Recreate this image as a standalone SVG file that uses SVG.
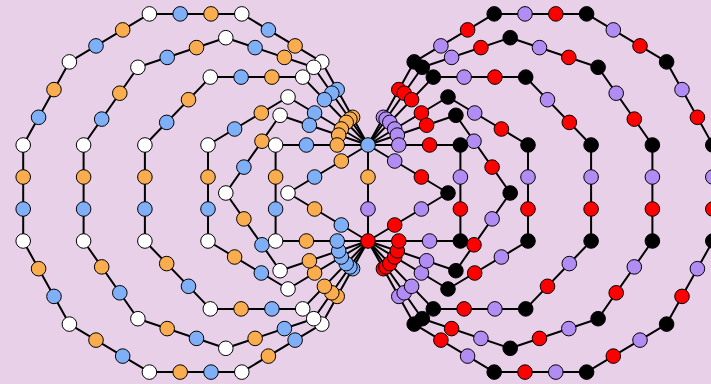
<svg xmlns="http://www.w3.org/2000/svg" width="711" height="384" viewBox="0 0 711 384">
<style>
.e polyline,.e line{fill:none;stroke:#000;stroke-width:2;stroke-linejoin:round}
circle{r:7.3px;stroke:#000;stroke-width:1}
.w{fill:#fff}.o{fill:#f9ad4e}.b{fill:#7fb0f7}.k{fill:#000}.r{fill:#f00}.p{fill:#b18cf2}
</style>
<rect width="711" height="384" fill="#e8d0e8"/>
<g id="connectors" class="e">
<line x1="368" y1="145" x2="368" y2="241"/>
<polyline points="368,145 288,193 368,241"/>
<polyline points="368,145 275.6,145 275.6,241 368,241"/>
<polyline points="368,145 280.1,115.3 225.8,193 280.1,270.7 368,241"/>
<polyline points="368,145 288,97 208,145 208,241 288,289 368,241"/>
<polyline points="368,145 302.7,77.1 210.3,77.1 144.9,145 144.9,241 210.3,308.9 302.7,308.9 368,241"/>
<polyline points="368,145 313.7,67.3 225.8,37.7 137.9,67.3 83.6,145 83.6,241 137.9,318.7 225.8,348.3 313.7,318.7 368,241"/>
<polyline points="368,145 321.8,61.9 241.8,13.9 149.4,13.9 69.4,61.9 23.2,145 23.2,241 69.4,324.1 149.4,372.1 241.8,372.1 321.8,324.1 368,241"/>
<polyline points="368,145 448,193 368,241"/>
<polyline points="368,145 460.4,145 460.4,241 368,241"/>
<polyline points="368,145 455.9,115.3 510.2,193 455.9,270.7 368,241"/>
<polyline points="368,145 448,97 528,145 528,241 448,289 368,241"/>
<polyline points="368,145 433.3,77.1 525.7,77.1 591.1,145 591.1,241 525.7,308.9 433.3,308.9 368,241"/>
<polyline points="368,145 422.3,67.3 510.2,37.7 598.1,67.3 652.4,145 652.4,241 598.1,318.7 510.2,348.3 422.3,318.7 368,241"/>
<polyline points="368,145 414.2,61.9 494.2,13.9 586.6,13.9 666.6,61.9 712.8,145 712.8,241 666.6,324.1 586.6,372.1 494.2,372.1 414.2,324.1 368,241"/>
</g>
<g id="left-nodes">
<g id="l12-1"><circle class="o" cx="352.6" cy="117.3"/></g>
<g id="l12-2"><circle class="b" cx="337.2" cy="89.6"/></g>
<g id="l12-3"><circle class="w" cx="321.8" cy="61.9"/></g>
<g id="l12-4"><circle class="o" cx="295.1" cy="45.9"/></g>
<g id="l12-5"><circle class="b" cx="268.4" cy="29.9"/></g>
<g id="l12-6"><circle class="w" cx="241.8" cy="13.9"/></g>
<g id="l12-7"><circle class="o" cx="211" cy="13.9"/></g>
<g id="l12-8"><circle class="b" cx="180.2" cy="13.9"/></g>
<g id="l12-9"><circle class="w" cx="149.4" cy="13.9"/></g>
<g id="l12-10"><circle class="o" cx="122.7" cy="29.9"/></g>
<g id="l12-11"><circle class="b" cx="96" cy="45.9"/></g>
<g id="l12-12"><circle class="w" cx="69.4" cy="61.9"/></g>
<g id="l12-13"><circle class="o" cx="54" cy="89.6"/></g>
<g id="l12-14"><circle class="b" cx="38.6" cy="117.3"/></g>
<g id="l12-15"><circle class="w" cx="23.2" cy="145"/></g>
<g id="l12-16"><circle class="o" cx="23.2" cy="177"/></g>
<g id="l12-17"><circle class="b" cx="23.2" cy="209"/></g>
<g id="l12-18"><circle class="w" cx="23.2" cy="241"/></g>
<g id="l12-19"><circle class="o" cx="38.6" cy="268.7"/></g>
<g id="l12-20"><circle class="b" cx="54" cy="296.4"/></g>
<g id="l12-21"><circle class="w" cx="69.4" cy="324.1"/></g>
<g id="l12-22"><circle class="o" cx="96" cy="340.1"/></g>
<g id="l12-23"><circle class="b" cx="122.7" cy="356.1"/></g>
<g id="l12-24"><circle class="w" cx="149.4" cy="372.1"/></g>
<g id="l12-25"><circle class="o" cx="180.2" cy="372.1"/></g>
<g id="l12-26"><circle class="b" cx="211" cy="372.1"/></g>
<g id="l12-27"><circle class="w" cx="241.8" cy="372.1"/></g>
<g id="l12-28"><circle class="o" cx="268.4" cy="356.1"/></g>
<g id="l12-29"><circle class="b" cx="295.1" cy="340.1"/></g>
<g id="l12-30"><circle class="w" cx="321.8" cy="324.1"/></g>
<g id="l12-31"><circle class="o" cx="337.2" cy="296.4"/></g>
<g id="l12-32"><circle class="b" cx="352.6" cy="268.7"/></g>
<g id="l10-1"><circle class="o" cx="349.9" cy="119.1"/></g>
<g id="l10-2"><circle class="b" cx="331.8" cy="93.2"/></g>
<g id="l10-3"><circle class="w" cx="313.7" cy="67.3"/></g>
<g id="l10-4"><circle class="o" cx="284.4" cy="57.4"/></g>
<g id="l10-5"><circle class="b" cx="255.1" cy="47.6"/></g>
<g id="l10-6"><circle class="w" cx="225.8" cy="37.7"/></g>
<g id="l10-7"><circle class="o" cx="196.5" cy="47.6"/></g>
<g id="l10-8"><circle class="b" cx="167.2" cy="57.4"/></g>
<g id="l10-9"><circle class="w" cx="137.9" cy="67.3"/></g>
<g id="l10-10"><circle class="o" cx="119.8" cy="93.2"/></g>
<g id="l10-11"><circle class="b" cx="101.7" cy="119.1"/></g>
<g id="l10-12"><circle class="w" cx="83.6" cy="145"/></g>
<g id="l10-13"><circle class="o" cx="83.6" cy="177"/></g>
<g id="l10-14"><circle class="b" cx="83.6" cy="209"/></g>
<g id="l10-15"><circle class="w" cx="83.6" cy="241"/></g>
<g id="l10-16"><circle class="o" cx="101.7" cy="266.9"/></g>
<g id="l10-17"><circle class="b" cx="119.8" cy="292.8"/></g>
<g id="l10-18"><circle class="w" cx="137.9" cy="318.7"/></g>
<g id="l10-19"><circle class="o" cx="167.2" cy="328.6"/></g>
<g id="l10-20"><circle class="b" cx="196.5" cy="338.4"/></g>
<g id="l10-21"><circle class="w" cx="225.8" cy="348.3"/></g>
<g id="l10-22"><circle class="o" cx="255.1" cy="338.4"/></g>
<g id="l10-23"><circle class="b" cx="284.4" cy="328.6"/></g>
<g id="l10-24"><circle class="w" cx="313.7" cy="318.7"/></g>
<g id="l10-25"><circle class="o" cx="331.8" cy="292.8"/></g>
<g id="l10-26"><circle class="b" cx="349.9" cy="266.9"/></g>
<g id="l8-1"><circle class="o" cx="346.2" cy="122.4"/></g>
<g id="l8-2"><circle class="b" cx="324.4" cy="99.7"/></g>
<g id="l8-3"><circle class="w" cx="302.7" cy="77.1"/></g>
<g id="l8-4"><circle class="o" cx="271.9" cy="77.1"/></g>
<g id="l8-5"><circle class="b" cx="241.1" cy="77.1"/></g>
<g id="l8-6"><circle class="w" cx="210.3" cy="77.1"/></g>
<g id="l8-7"><circle class="o" cx="188.5" cy="99.7"/></g>
<g id="l8-8"><circle class="b" cx="166.7" cy="122.4"/></g>
<g id="l8-9"><circle class="w" cx="144.9" cy="145"/></g>
<g id="l8-10"><circle class="o" cx="144.9" cy="177"/></g>
<g id="l8-11"><circle class="b" cx="144.9" cy="209"/></g>
<g id="l8-12"><circle class="w" cx="144.9" cy="241"/></g>
<g id="l8-13"><circle class="o" cx="166.7" cy="263.6"/></g>
<g id="l8-14"><circle class="b" cx="188.5" cy="286.3"/></g>
<g id="l8-15"><circle class="w" cx="210.3" cy="308.9"/></g>
<g id="l8-16"><circle class="o" cx="241.1" cy="308.9"/></g>
<g id="l8-17"><circle class="b" cx="271.9" cy="308.9"/></g>
<g id="l8-18"><circle class="w" cx="302.7" cy="308.9"/></g>
<g id="l8-19"><circle class="o" cx="324.4" cy="286.3"/></g>
<g id="l8-20"><circle class="b" cx="346.2" cy="263.6"/></g>
<g id="l6-1"><circle class="o" cx="341.3" cy="129"/></g>
<g id="l6-2"><circle class="b" cx="314.6" cy="113"/></g>
<g id="l6-3"><circle class="w" cx="288" cy="97"/></g>
<g id="l6-4"><circle class="o" cx="261.3" cy="113"/></g>
<g id="l6-5"><circle class="b" cx="234.6" cy="129"/></g>
<g id="l6-6"><circle class="w" cx="208" cy="145"/></g>
<g id="l6-7"><circle class="o" cx="208" cy="177"/></g>
<g id="l6-8"><circle class="b" cx="208" cy="209"/></g>
<g id="l6-9"><circle class="w" cx="208" cy="241"/></g>
<g id="l6-10"><circle class="o" cx="234.6" cy="257"/></g>
<g id="l6-11"><circle class="b" cx="261.3" cy="273"/></g>
<g id="l6-12"><circle class="w" cx="288" cy="289"/></g>
<g id="l6-13"><circle class="o" cx="314.6" cy="273"/></g>
<g id="l6-14"><circle class="b" cx="341.3" cy="257"/></g>
<g id="l5-1"><circle class="o" cx="338.7" cy="135.1"/></g>
<g id="l5-2"><circle class="b" cx="309.4" cy="125.2"/></g>
<g id="l5-3"><circle class="w" cx="280.1" cy="115.3"/></g>
<g id="l5-4"><circle class="o" cx="262" cy="141.2"/></g>
<g id="l5-5"><circle class="b" cx="243.9" cy="167.1"/></g>
<g id="l5-6"><circle class="w" cx="225.8" cy="193"/></g>
<g id="l5-7"><circle class="o" cx="243.9" cy="218.9"/></g>
<g id="l5-8"><circle class="b" cx="262" cy="244.8"/></g>
<g id="l5-9"><circle class="w" cx="280.1" cy="270.7"/></g>
<g id="l5-10"><circle class="o" cx="309.4" cy="260.8"/></g>
<g id="l5-11"><circle class="b" cx="338.7" cy="250.9"/></g>
<g id="l4-1"><circle class="o" cx="337.2" cy="145"/></g>
<g id="l4-2"><circle class="b" cx="306.4" cy="145"/></g>
<g id="l4-3"><circle class="w" cx="275.6" cy="145"/></g>
<g id="l4-4"><circle class="o" cx="275.6" cy="177"/></g>
<g id="l4-5"><circle class="b" cx="275.6" cy="209"/></g>
<g id="l4-6"><circle class="w" cx="275.6" cy="241"/></g>
<g id="l4-7"><circle class="o" cx="306.4" cy="241"/></g>
<g id="l4-8"><circle class="b" cx="337.2" cy="241"/></g>
<g id="l3-1"><circle class="o" cx="341.3" cy="161"/></g>
<g id="l3-2"><circle class="b" cx="314.6" cy="177"/></g>
<g id="l3-3"><circle class="w" cx="288" cy="193"/></g>
<g id="l3-4"><circle class="o" cx="314.6" cy="209"/></g>
<g id="l3-5"><circle class="b" cx="341.3" cy="225"/></g>
</g>
<g id="right-nodes">
<g id="r12-1"><circle class="p" cx="383.4" cy="117.3"/></g>
<g id="r12-2"><circle class="r" cx="398.8" cy="89.6"/></g>
<g id="r12-3"><circle class="k" cx="414.2" cy="61.9"/></g>
<g id="r12-4"><circle class="p" cx="440.9" cy="45.9"/></g>
<g id="r12-5"><circle class="r" cx="467.6" cy="29.9"/></g>
<g id="r12-6"><circle class="k" cx="494.2" cy="13.9"/></g>
<g id="r12-7"><circle class="p" cx="525" cy="13.9"/></g>
<g id="r12-8"><circle class="r" cx="555.8" cy="13.9"/></g>
<g id="r12-9"><circle class="k" cx="586.6" cy="13.9"/></g>
<g id="r12-10"><circle class="p" cx="613.3" cy="29.9"/></g>
<g id="r12-11"><circle class="r" cx="640" cy="45.9"/></g>
<g id="r12-12"><circle class="k" cx="666.6" cy="61.9"/></g>
<g id="r12-13"><circle class="p" cx="682" cy="89.6"/></g>
<g id="r12-14"><circle class="r" cx="697.4" cy="117.3"/></g>
<g id="r12-15"><circle class="k" cx="712.8" cy="145"/></g>
<g id="r12-16"><circle class="p" cx="712.8" cy="177"/></g>
<g id="r12-17"><circle class="r" cx="712.8" cy="209"/></g>
<g id="r12-18"><circle class="k" cx="712.8" cy="241"/></g>
<g id="r12-19"><circle class="p" cx="697.4" cy="268.7"/></g>
<g id="r12-20"><circle class="r" cx="682" cy="296.4"/></g>
<g id="r12-21"><circle class="k" cx="666.6" cy="324.1"/></g>
<g id="r12-22"><circle class="p" cx="640" cy="340.1"/></g>
<g id="r12-23"><circle class="r" cx="613.3" cy="356.1"/></g>
<g id="r12-24"><circle class="k" cx="586.6" cy="372.1"/></g>
<g id="r12-25"><circle class="p" cx="555.8" cy="372.1"/></g>
<g id="r12-26"><circle class="r" cx="525" cy="372.1"/></g>
<g id="r12-27"><circle class="k" cx="494.2" cy="372.1"/></g>
<g id="r12-28"><circle class="p" cx="467.6" cy="356.1"/></g>
<g id="r12-29"><circle class="r" cx="440.9" cy="340.1"/></g>
<g id="r12-30"><circle class="k" cx="414.2" cy="324.1"/></g>
<g id="r12-31"><circle class="p" cx="398.8" cy="296.4"/></g>
<g id="r12-32"><circle class="r" cx="383.4" cy="268.7"/></g>
<g id="r10-1"><circle class="p" cx="386.1" cy="119.1"/></g>
<g id="r10-2"><circle class="r" cx="404.2" cy="93.2"/></g>
<g id="r10-3"><circle class="k" cx="422.3" cy="67.3"/></g>
<g id="r10-4"><circle class="p" cx="451.6" cy="57.4"/></g>
<g id="r10-5"><circle class="r" cx="480.9" cy="47.6"/></g>
<g id="r10-6"><circle class="k" cx="510.2" cy="37.7"/></g>
<g id="r10-7"><circle class="p" cx="539.5" cy="47.6"/></g>
<g id="r10-8"><circle class="r" cx="568.8" cy="57.4"/></g>
<g id="r10-9"><circle class="k" cx="598.1" cy="67.3"/></g>
<g id="r10-10"><circle class="p" cx="616.2" cy="93.2"/></g>
<g id="r10-11"><circle class="r" cx="634.3" cy="119.1"/></g>
<g id="r10-12"><circle class="k" cx="652.4" cy="145"/></g>
<g id="r10-13"><circle class="p" cx="652.4" cy="177"/></g>
<g id="r10-14"><circle class="r" cx="652.4" cy="209"/></g>
<g id="r10-15"><circle class="k" cx="652.4" cy="241"/></g>
<g id="r10-16"><circle class="p" cx="634.3" cy="266.9"/></g>
<g id="r10-17"><circle class="r" cx="616.2" cy="292.8"/></g>
<g id="r10-18"><circle class="k" cx="598.1" cy="318.7"/></g>
<g id="r10-19"><circle class="p" cx="568.8" cy="328.6"/></g>
<g id="r10-20"><circle class="r" cx="539.5" cy="338.4"/></g>
<g id="r10-21"><circle class="k" cx="510.2" cy="348.3"/></g>
<g id="r10-22"><circle class="p" cx="480.9" cy="338.4"/></g>
<g id="r10-23"><circle class="r" cx="451.6" cy="328.6"/></g>
<g id="r10-24"><circle class="k" cx="422.3" cy="318.7"/></g>
<g id="r10-25"><circle class="p" cx="404.2" cy="292.8"/></g>
<g id="r10-26"><circle class="r" cx="386.1" cy="266.9"/></g>
<g id="r8-1"><circle class="p" cx="389.8" cy="122.4"/></g>
<g id="r8-2"><circle class="r" cx="411.6" cy="99.7"/></g>
<g id="r8-3"><circle class="k" cx="433.3" cy="77.1"/></g>
<g id="r8-4"><circle class="p" cx="464.1" cy="77.1"/></g>
<g id="r8-5"><circle class="r" cx="494.9" cy="77.1"/></g>
<g id="r8-6"><circle class="k" cx="525.7" cy="77.1"/></g>
<g id="r8-7"><circle class="p" cx="547.5" cy="99.7"/></g>
<g id="r8-8"><circle class="r" cx="569.3" cy="122.4"/></g>
<g id="r8-9"><circle class="k" cx="591.1" cy="145"/></g>
<g id="r8-10"><circle class="p" cx="591.1" cy="177"/></g>
<g id="r8-11"><circle class="r" cx="591.1" cy="209"/></g>
<g id="r8-12"><circle class="k" cx="591.1" cy="241"/></g>
<g id="r8-13"><circle class="p" cx="569.3" cy="263.6"/></g>
<g id="r8-14"><circle class="r" cx="547.5" cy="286.3"/></g>
<g id="r8-15"><circle class="k" cx="525.7" cy="308.9"/></g>
<g id="r8-16"><circle class="p" cx="494.9" cy="308.9"/></g>
<g id="r8-17"><circle class="r" cx="464.1" cy="308.9"/></g>
<g id="r8-18"><circle class="k" cx="433.3" cy="308.9"/></g>
<g id="r8-19"><circle class="p" cx="411.6" cy="286.3"/></g>
<g id="r8-20"><circle class="r" cx="389.8" cy="263.6"/></g>
<g id="r6-1"><circle class="p" cx="394.7" cy="129"/></g>
<g id="r6-2"><circle class="r" cx="421.4" cy="113"/></g>
<g id="r6-3"><circle class="k" cx="448" cy="97"/></g>
<g id="r6-4"><circle class="p" cx="474.7" cy="113"/></g>
<g id="r6-5"><circle class="r" cx="501.4" cy="129"/></g>
<g id="r6-6"><circle class="k" cx="528" cy="145"/></g>
<g id="r6-7"><circle class="p" cx="528" cy="177"/></g>
<g id="r6-8"><circle class="r" cx="528" cy="209"/></g>
<g id="r6-9"><circle class="k" cx="528" cy="241"/></g>
<g id="r6-10"><circle class="p" cx="501.4" cy="257"/></g>
<g id="r6-11"><circle class="r" cx="474.7" cy="273"/></g>
<g id="r6-12"><circle class="k" cx="448" cy="289"/></g>
<g id="r6-13"><circle class="p" cx="421.4" cy="273"/></g>
<g id="r6-14"><circle class="r" cx="394.7" cy="257"/></g>
<g id="r5-1"><circle class="p" cx="397.3" cy="135.1"/></g>
<g id="r5-2"><circle class="r" cx="426.6" cy="125.2"/></g>
<g id="r5-3"><circle class="k" cx="455.9" cy="115.3"/></g>
<g id="r5-4"><circle class="p" cx="474" cy="141.2"/></g>
<g id="r5-5"><circle class="r" cx="492.1" cy="167.1"/></g>
<g id="r5-6"><circle class="k" cx="510.2" cy="193"/></g>
<g id="r5-7"><circle class="p" cx="492.1" cy="218.9"/></g>
<g id="r5-8"><circle class="r" cx="474" cy="244.8"/></g>
<g id="r5-9"><circle class="k" cx="455.9" cy="270.7"/></g>
<g id="r5-10"><circle class="p" cx="426.6" cy="260.8"/></g>
<g id="r5-11"><circle class="r" cx="397.3" cy="250.9"/></g>
<g id="r4-1"><circle class="p" cx="398.8" cy="145"/></g>
<g id="r4-2"><circle class="r" cx="429.6" cy="145"/></g>
<g id="r4-3"><circle class="k" cx="460.4" cy="145"/></g>
<g id="r4-4"><circle class="p" cx="460.4" cy="177"/></g>
<g id="r4-5"><circle class="r" cx="460.4" cy="209"/></g>
<g id="r4-6"><circle class="k" cx="460.4" cy="241"/></g>
<g id="r4-7"><circle class="p" cx="429.6" cy="241"/></g>
<g id="r4-8"><circle class="r" cx="398.8" cy="241"/></g>
<g id="r3-1"><circle class="p" cx="394.7" cy="161"/></g>
<g id="r3-2"><circle class="r" cx="421.4" cy="177"/></g>
<g id="r3-3"><circle class="k" cx="448" cy="193"/></g>
<g id="r3-4"><circle class="p" cx="421.4" cy="209"/></g>
<g id="r3-5"><circle class="r" cx="394.7" cy="225"/></g>
</g>
<g id="hub-edge">
<g id="h-o"><circle class="o" cx="368" cy="177"/></g>
<g id="h-p"><circle class="p" cx="368" cy="209"/></g>
<g id="hub-top"><circle class="b" cx="368" cy="145"/></g>
<g id="hub-bottom"><circle class="r" cx="368" cy="241"/></g>
</g>
</svg>
